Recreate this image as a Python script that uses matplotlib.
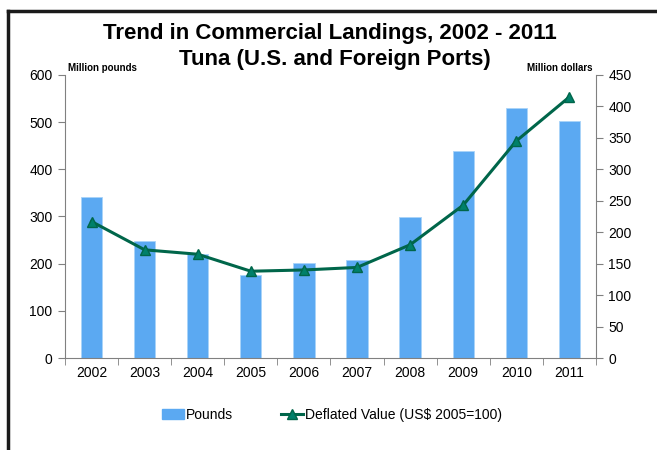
import matplotlib.pyplot as plt
from matplotlib.lines import Line2D
from matplotlib.patches import Patch

plt.rcParams['font.family'] = ['Liberation Sans', 'DejaVu Sans']

years = ["2002", "2003", "2004", "2005", "2006", "2007", "2008", "2009", "2010", "2011"]
pounds = [341, 248, 220, 175, 201, 208, 299, 439, 531, 502]
deflated_value = [217, 172, 165, 138, 140, 144, 180, 243, 345, 415]

bar_color = "#5BA9F2"
line_color = "#00664A"
marker_color = "#00806A"

fig = plt.figure(figsize=(6.57, 4.5), dpi=100)
ax = fig.add_axes([0.099, 0.2044, 0.808, 0.629])
x = list(range(len(years)))

ax.bar(x, pounds, width=0.4, color=bar_color, edgecolor="#A9D3F8", linewidth=0.6, zorder=2)
ax.set_xlim(-0.5, len(years) - 0.5)
ax.set_ylim(0, 600)
ax.set_yticks(range(0, 601, 100))
ax.set_xticks(x)
ax.set_xticklabels(years)
ax.set_xticks([i - 0.5 for i in range(len(years) + 1)], minor=True)
ax.tick_params(axis="x", which="major", length=0, pad=6, labelsize=10)
ax.tick_params(axis="x", which="minor", length=5, color="#808080", direction="out")
ax.tick_params(axis="y", length=5, color="#808080", labelsize=10, pad=4)
for s in ["top", "right"]:
    ax.spines[s].set_visible(False)
for s in ["left", "bottom"]:
    ax.spines[s].set_color("#808080")

ax2 = ax.twinx()
ax2.plot(x, deflated_value, color=line_color, linewidth=2.2, marker="^",
         markersize=7, markerfacecolor=marker_color, markeredgecolor=line_color, zorder=3)
ax2.set_ylim(0, 450)
ax2.set_yticks(range(0, 451, 50))
ax2.tick_params(axis="y", length=5, color="#808080", labelsize=10, pad=4)
for s in ["top", "left", "bottom"]:
    ax2.spines[s].set_visible(False)
ax2.spines["right"].set_color("#808080")

fig.text(0.502, 0.9127, "Trend in Commercial Landings, 2002 - 2011", ha="center", va="baseline",
         fontsize=16, fontweight="bold")
fig.text(0.510, 0.8556, "Tuna (U.S. and Foreign Ports)", ha="center", va="baseline",
         fontsize=16, fontweight="bold")
fig.text(0.104, 0.848, "Million pounds", ha="left", va="center", fontsize=7, fontweight="bold")
fig.text(0.902, 0.848, "Million dollars", ha="right", va="center", fontsize=7, fontweight="bold")

handles = [Patch(facecolor=bar_color, edgecolor=bar_color),
           Line2D([0], [0], color=line_color, linewidth=2.2, marker="^", markersize=7,
                  markerfacecolor=marker_color, markeredgecolor=line_color)]
fig.legend(handles, ["Pounds", "Deflated Value (US$ 2005=100)"], loc="center",
           bbox_to_anchor=(0.505, 0.078), ncol=2, frameon=False, fontsize=10,
           handlelength=1.6, handletextpad=0.1, columnspacing=3.5)

# outer frame (top and left edges visible)
fig.add_artist(Line2D([0.012, 1.0], [0.975, 0.975], color="#1a1a1a", linewidth=2.5,
                      transform=fig.transFigure))
fig.add_artist(Line2D([0.012, 0.012], [0.0, 0.975], color="#1a1a1a", linewidth=2.5,
                      transform=fig.transFigure))

fig.savefig("out.png", dpi=100)
